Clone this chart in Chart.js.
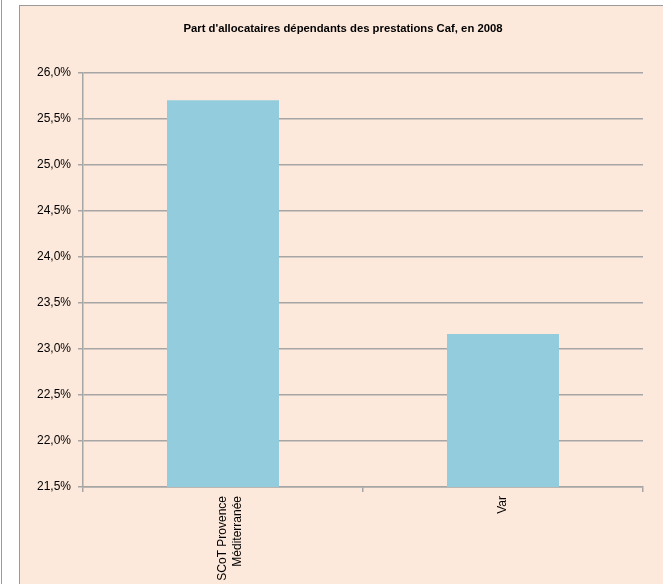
<!DOCTYPE html>
<html>
<head>
<meta charset="utf-8">
<script src="https://cdn.jsdelivr.net/npm/chart.js@4"></script>
<style>
  body { margin: 0; background: #fff; width: 663px; height: 584px; overflow: hidden; position: relative; }
  #edge { position: absolute; left: 1px; top: 0; width: 1px; height: 584px; background: #9a9a9a; }
  #frame { position: absolute; left: 19px; top: 5px; width: 660px; height: 600px; background: #fde9db; border: 1px solid #9a9a9a; }
  #wrap { position: absolute; left: 0; top: 0; width: 646px; height: 578px; }
</style>
</head>
<body>
<div id="edge"></div>
<div id="frame"><div id="wrap"><canvas id="caf"></canvas></div></div>
<script>
// Part d'allocataires dépendants des prestations Caf, en 2008
const territoires = [["SCoT Provence", "Méditerranée"], "Var"];
const parts = [25.70, 23.16];
const yMin = 21.5, yMax = 26.0, yStep = 0.5;

const FONT = "'Liberation Sans Narrow', 'Arial Narrow', Arial, sans-serif";
const gridGrey = '#a6a6a6';

new Chart(document.getElementById('caf').getContext('2d'), {
  type: 'bar',
  data: {
    labels: territoires,
    datasets: [{
      data: parts,
      backgroundColor: '#93cddd',
      borderWidth: 0,
      barPercentage: 0.4,
      categoryPercentage: 1.0
    }]
  },
  options: {
    responsive: true,
    maintainAspectRatio: false,
    animation: false,
    layout: { padding: 0 },
    plugins: {
      legend: { display: false },
      tooltip: { enabled: false },
      title: {
        display: true,
        text: "Part d'allocataires dépendants des prestations Caf, en 2008",
        color: '#000',
        font: { family: FONT, size: 11.3, weight: 'bold' },
        padding: { top: 16, bottom: 37 }
      }
    },
    scales: {
      x: {
        grid: { display: true, drawOnChartArea: false, offset: true, color: gridGrey, lineWidth: 1.5, tickLength: 5 },
        border: { color: gridGrey, width: 1.5 },
        ticks: { color: '#000', font: { family: FONT, size: 12, lineHeight: 1.2 }, minRotation: 90, maxRotation: 90, padding: 4 },
        afterFit: s => { s.height = 97; }
      },
      y: {
        min: yMin,
        max: yMax,
        grid: { color: gridGrey, lineWidth: 1.5, tickLength: 5 },
        border: { color: gridGrey, width: 1.5 },
        ticks: {
          stepSize: yStep,
          color: '#000',
          font: { family: FONT, size: 12 },
          padding: 7,
          callback: v => v.toFixed(1).replace('.', ',') + '%'
        },
        afterFit: s => { s.width = 63; }
      },
      // empty right margin so the plot stops where the reference one does
      marge: {
        position: 'right',
        display: true,
        grid: { display: false },
        border: { display: false },
        ticks: { display: false },
        afterFit: s => { s.width = 23; }
      }
    }
  }
});
</script>
</body>
</html>
